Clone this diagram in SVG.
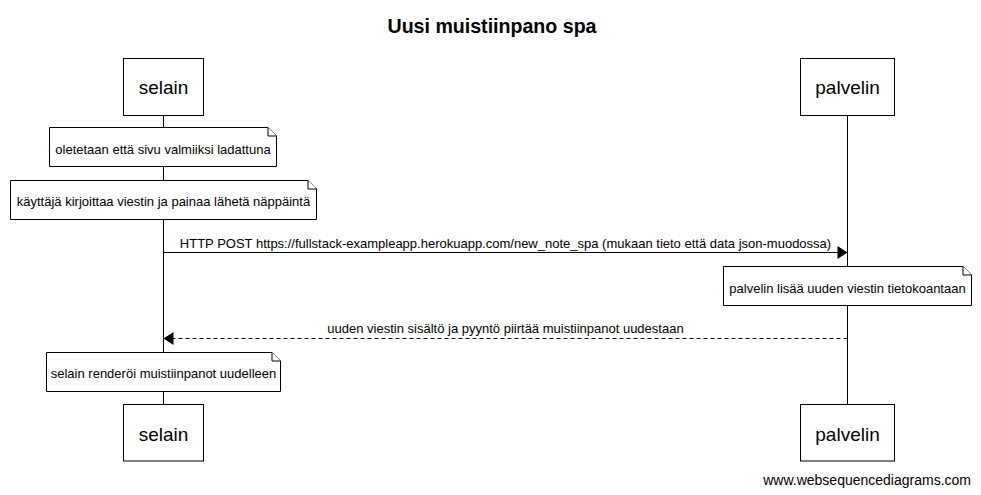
<svg xmlns="http://www.w3.org/2000/svg" width="981" height="495" viewBox="0 0 981 495">
<style>
  text { font-family: "Liberation Sans", Arial, sans-serif; fill: #000; }
  .title { font-size: 19.6px; font-weight: bold; text-anchor: middle; }
  .actor rect { fill: #fff; stroke: #000; stroke-width: 1; }
  .actor text { font-size: 19px; text-anchor: middle; }
  .note path { fill: #fff; stroke: #000; stroke-width: 1; }
  .note text { font-size: 13px; text-anchor: middle; }
  .lifeline { stroke: #000; stroke-width: 1; fill: none; }
  .msg { stroke: #000; stroke-width: 1; fill: none; }
  .dashed { stroke-dasharray: 4,3; }
  .label { font-size: 13px; text-anchor: middle; }
  .footer { font-size: 14px; text-anchor: end; }
</style>
<rect width="981" height="495" fill="#fff"/>
<text class="title" x="492" y="33">Uusi muistiinpano spa</text>

<g id="lifelines">
  <line class="lifeline" x1="163.5" y1="116" x2="163.5" y2="404"/>
  <line class="lifeline" x1="847.5" y1="116" x2="847.5" y2="404"/>
</g>

<g id="actor-selain-top" class="actor">
  <rect x="123.5" y="58.5" width="80" height="57"/>
  <text x="163.5" y="93.5">selain</text>
</g>
<g id="actor-palvelin-top" class="actor">
  <rect x="800.5" y="58.5" width="94" height="57"/>
  <text x="847.5" y="94">palvelin</text>
</g>
<g id="actor-selain-bottom" class="actor">
  <rect x="123.5" y="404.5" width="80" height="56.5"/>
  <text x="163.5" y="440.5">selain</text>
</g>
<g id="actor-palvelin-bottom" class="actor">
  <rect x="800.5" y="404.5" width="94" height="56.5"/>
  <text x="847.5" y="440.5">palvelin</text>
</g>

<g id="note-1" class="note">
  <path d="M49.5,127.5 H268 L276.5,136 V166.5 H49.5 Z"/>
  <path d="M268,127.5 V136 H276.5"/>
  <text x="163" y="154">oletetaan että sivu valmiiksi ladattuna</text>
</g>
<g id="note-2" class="note">
  <path d="M10.5,180.5 H308 L316.5,189 V219.5 H10.5 Z"/>
  <path d="M308,180.5 V189 H316.5"/>
  <text x="163.5" y="206">käyttäjä kirjoittaa viestin ja painaa lähetä näppäintä</text>
</g>
<g id="note-3" class="note">
  <path d="M723.5,266.5 H963 L971.5,275 V305.5 H723.5 Z"/>
  <path d="M963,266.5 V275 H971.5"/>
  <text x="847.5" y="292.5">palvelin lisää uuden viestin tietokoantaan</text>
</g>
<g id="note-4" class="note">
  <path d="M46.5,352.5 H272 L280.5,361 V391.5 H46.5 Z"/>
  <path d="M272,352.5 V361 H280.5"/>
  <text x="163.5" y="378">selain renderöi muistiinpanot uudelleen</text>
</g>

<g id="connectors">
  <line class="msg" x1="163.5" y1="252.5" x2="838" y2="252.5"/>
  <polygon points="847.5,252.5 837.5,246 837.5,259" fill="#000"/>
  <text class="label" x="505.5" y="248">HTTP POST https://fullstack-exampleapp.herokuapp.com/new_note_spa (mukaan tieto että data json-muodossa)</text>

  <line class="msg dashed" x1="847.5" y1="338.5" x2="173" y2="338.5"/>
  <polygon points="163.5,338.5 173.5,332 173.5,345" fill="#000"/>
  <text class="label" x="505.5" y="333">uuden viestin sisältö ja pyyntö piirtää muistiinpanot uudestaan</text>
</g>

<text class="footer" x="971" y="485">www.websequencediagrams.com</text>
</svg>
